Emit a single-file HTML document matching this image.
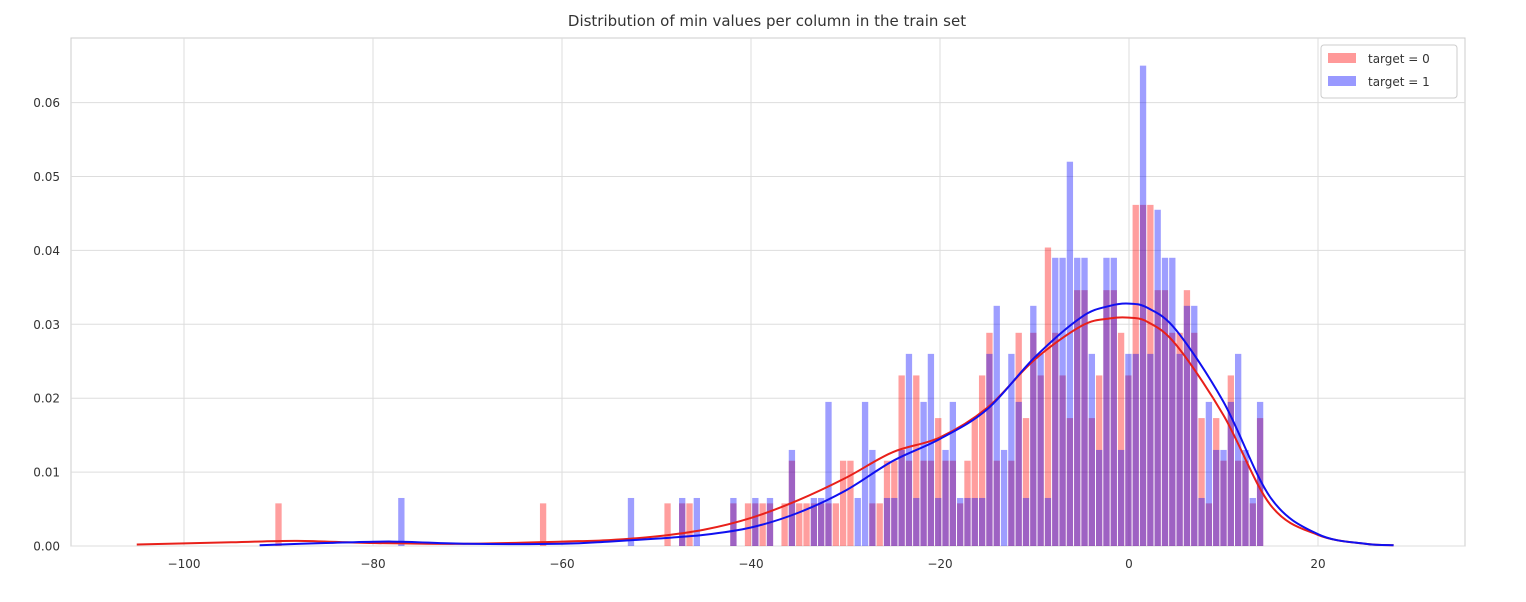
<!DOCTYPE html>
<html><head><meta charset="utf-8"><style>
body{margin:0;background:#fff;font-family:"DejaVu Sans","Liberation Sans",sans-serif;}
svg text{font-family:"DejaVu Sans","Liberation Sans",sans-serif;fill:#333;}
</style></head><body>
<svg id="chart" width="1526" height="598" viewBox="0 0 1526 598">
<text x="767" y="26" text-anchor="middle" font-size="15">Distribution of min values per column in the train set</text>
<rect x="71" y="38" width="1394" height="508" fill="#fff" stroke="#ccc"/>
<g id="grid"></g><g id="bars"></g><g id="lines"></g><g id="axes"></g>
<g>
<rect x="1321" y="45" width="136" height="53" rx="3" fill="#fff" fill-opacity="0.8" stroke="#ccc"/>
<rect x="1328" y="53" width="28" height="10" fill="red" fill-opacity="0.4"/>
<text x="1368" y="63" font-size="12">target = 0</text>
<rect x="1328" y="76" width="28" height="10" fill="blue" fill-opacity="0.4"/>
<text x="1368" y="86" font-size="12">target = 1</text>
</g>
</svg>
<script>
const xTicks=[-100,-80,-60,-40,-20,0,20];
const yTicks=[0,0.01,0.02,0.03,0.04,0.05,0.06];
const yTickLabels=["0.00","0.01","0.02","0.03","0.04","0.05","0.06"];
const binStart=-52.7;
const binWidth=0.7741;
const redUnit=0.00577;
const blueUnit=0.0065;
const redCounts=[0,0,0,0,0,1,0,1,1,0,0,0,0,0,1,0,1,1,1,1,0,1,2,1,1,1,1,1,1,2,2,0,0,1,1,2,2,4,2,4,2,2,3,2,2,1,2,3,4,5,2,0,2,5,3,5,4,7,5,4,3,6,6,3,4,6,6,5,4,8,8,8,6,6,5,5,6,5,3,1,3,2,4,2,2,1,3];
const blueCounts=[1,0,0,0,0,0,0,1,0,1,0,0,0,0,1,0,0,1,0,1,0,0,2,0,0,1,1,3,0,0,0,1,3,2,0,1,1,2,4,1,3,4,1,2,3,1,1,1,1,4,5,2,4,3,1,5,4,1,6,6,8,6,6,4,2,6,6,2,4,4,10,4,7,6,6,4,5,5,1,3,2,2,3,4,2,1,3];
const redOutliers=[-90,-62];
const blueOutliers=[-77];
const redKdeX=[-105,-95,-88,-80,-70,-60,-55,-50,-45,-40,-35,-30,-25,-20,-15,-10,-5,-2,0,2,5,10,15,20,25,28];
const redKdeY=[0.0002,0.0005,0.0007,0.0004,0.0003,0.0006,0.0008,0.0013,0.0022,0.0038,0.0062,0.0092,0.0127,0.0147,0.0187,0.0252,0.0298,0.0308,0.0309,0.0303,0.0272,0.0177,0.0055,0.0015,0.0003,0.0001];
const blueKdeX=[-92,-85,-78,-70,-60,-55,-50,-45,-40,-35,-30,-25,-20,-15,-10,-5,-2,0,2,5,10,15,20,25,28];
const blueKdeY=[0.0001,0.0004,0.0006,0.0003,0.0003,0.0006,0.001,0.0015,0.0025,0.0045,0.0075,0.0115,0.0145,0.0185,0.0255,0.031,0.0325,0.0328,0.0322,0.0292,0.0195,0.0065,0.0016,0.0003,0.0001];

const X=v=>1129+v*9.45;
const Y=v=>546-v*7390;
const NS="http://www.w3.org/2000/svg";
function mk(tag,attrs,parent){const e=document.createElementNS(NS,tag);for(const k in attrs)e.setAttribute(k,attrs[k]);parent.appendChild(e);return e;}
const grid=document.getElementById('grid'),bars=document.getElementById('bars'),lines=document.getElementById('lines'),axes=document.getElementById('axes');
xTicks.forEach(t=>{
  const l=mk('line',{x1:X(t),x2:X(t),y1:38,y2:546,stroke:'#ddd','stroke-width':1},grid);
  
  
  const tx=mk('text',{x:X(t),y:568,'text-anchor':'middle','font-size':12},axes);
  tx.textContent=(t<0?'\u2212'+(-t):t);
  
  
});
yTicks.forEach((t,i)=>{
  const l=mk('line',{x1:71,x2:1465,y1:Y(t),y2:Y(t),stroke:'#ddd','stroke-width':1},grid);
  
  
  const tx=mk('text',{x:60,y:Y(t)+4.5,'text-anchor':'end','font-size':12},axes);
  tx.textContent=yTickLabels[i];
  
  
});
function drawBar(center,h,color,name){
  const x0=X(center-binWidth/2),x1=X(center+binWidth/2);
  const r=mk('rect',{x:x0+0.5,y:Y(h),width:Math.max(1,x1-x0-1),height:546-Y(h),fill:color,'fill-opacity':0.38},bars);
  
  
}
redCounts.forEach((c,k)=>{if(c>0)drawBar(binStart+binWidth*k,c*redUnit,'red','bar-target-0');});
blueCounts.forEach((c,k)=>{if(c>0)drawBar(binStart+binWidth*k,c*blueUnit,'blue','bar-target-1');});
redOutliers.forEach(v=>drawBar(v,redUnit,'red','bar-target-0'));
blueOutliers.forEach(v=>drawBar(v,blueUnit,'blue','bar-target-1'));
function smooth(xs,ys){
  const p=xs.map((x,i)=>[X(x),Y(ys[i])]);
  let d='M'+p[0][0]+','+p[0][1];
  for(let i=0;i<p.length-1;i++){
    const p0=p[Math.max(0,i-1)],p1=p[i],p2=p[i+1],p3=p[Math.min(p.length-1,i+2)];
    const c1=[p1[0]+(p2[0]-p0[0])/6,p1[1]+(p2[1]-p0[1])/6];
    const c2=[p2[0]-(p3[0]-p1[0])/6,p2[1]-(p3[1]-p1[1])/6];
    d+=' C'+c1+' '+c2+' '+p2;
  }
  return d;
}
const rl=mk('path',{d:smooth(redKdeX,redKdeY),fill:'none',stroke:'#e8201a','stroke-width':2},lines);


const bl=mk('path',{d:smooth(blueKdeX,blueKdeY),fill:'none',stroke:'#1010f0','stroke-width':2},lines);


</script>
</body></html>
